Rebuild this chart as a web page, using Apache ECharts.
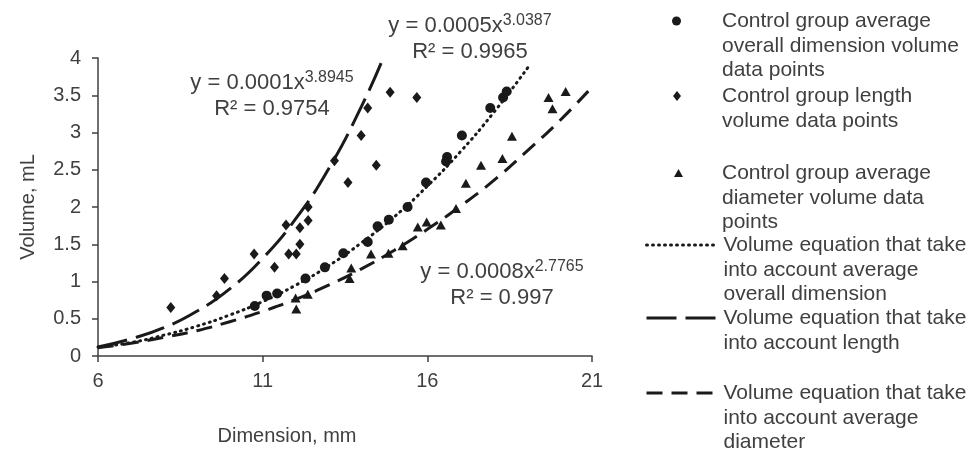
<!DOCTYPE html>
<html>
<head>
<meta charset="utf-8">
<style>html,body{margin:0;padding:0;background:#fff}#main{width:971px;height:452px}</style>
</head>
<body>
<div id="main"></div>
<script src="https://cdn.jsdelivr.net/npm/echarts@6/dist/echarts.min.js"></script>
<script>
    // tick labels
    var dimTicks = [6, 11, 16, 21];

    // measured points [dimension mm, volume mL]
    var overallPts = [[10.76,0.67],[11.12,0.81],[11.44,0.84],[12.30,1.04],[12.89,1.19],[13.45,1.38],[14.19,1.53],[14.49,1.74],[14.83,1.83],[15.40,2.00],[15.96,2.33],[16.57,2.61],[16.60,2.67],[17.05,2.96],[17.91,3.33],[18.30,3.47],[18.41,3.55]];
    var lengthPts = [[8.21,0.65],[9.60,0.81],[9.84,1.04],[10.74,1.37],[11.36,1.19],[11.71,1.76],[11.79,1.37],[12.02,1.37],[12.13,1.50],[12.13,1.72],[12.38,1.82],[12.38,2.00],[13.18,2.62],[13.59,2.33],[13.99,2.96],[14.19,3.33],[14.45,2.56],[14.87,3.54],[15.68,3.47]];
    var diameterPts = [[12.02,0.63],[12.00,0.78],[12.37,0.83],[13.64,1.04],[13.69,1.18],[14.29,1.37],[14.82,1.38],[15.25,1.48],[15.71,1.73],[15.98,1.80],[16.41,1.76],[16.87,1.98],[17.17,2.32],[17.63,2.56],[18.28,2.65],[18.57,2.95],[19.68,3.47],[19.80,3.32],[20.20,3.55]];

    // trend lines
    var overallFitX = [6,7,8,9,10,11,12,13,14,15,16,17,18,19.05];
    var overallFitY = [0.12,0.18,0.28,0.40,0.55,0.73,0.95,1.21,1.52,1.87,2.28,2.74,3.26,3.87];
    var lengthFitX = [6,7,8,9,10,11,12,13,14,14.66];
    var lengthFitY = [0.12,0.23,0.38,0.60,0.90,1.31,1.84,2.51,3.35,4.0];
    var diameterFitX = [6,7,8,9,10,11,12,13,14,15,16,17,18,19,20,21];
    var diameterFitY = [0.11,0.17,0.25,0.34,0.46,0.60,0.76,0.95,1.17,1.42,1.70,2.01,2.35,2.74,3.15,3.61];

    var names = [
        'Control group average overall dimension volume data points',
        'Control group length volume data points',
        'Control group average diameter volume data points',
        'Volume equation that take into account average overall dimension',
        'Volume equation that take into account length',
        'Volume equation that take into account average diameter'
    ];
    var legendLines = [
        ['Control group average', 'overall dimension volume', 'data points'],
        ['Control group length', 'volume data points'],
        ['Control group average', 'diameter volume data', 'points'],
        ['Volume equation that take', 'into account average', 'overall dimension'],
        ['Volume equation that take', 'into account length'],
        ['Volume equation that take', 'into account average', 'diameter']
    ];
    var legendFirstY = [21, 96, 173, 245, 318, 393];

    var FONT = '"Liberation Sans", Arial, sans-serif';
    var TXT = '#404040';
    var INK = '#1a1a1a';
    var LH = 24.8;

    var dotStyle = { color: INK, width: 3, type: [1, 5], cap: 'round' };
    var longDashStyle = { color: INK, width: 3, type: [30, 9] };
    var dashStyle = { color: INK, width: 3, type: [16, 9] };

    function zip(xs, ys) {
        var out = [];
        for (var i = 0; i < xs.length; i++) { out.push([xs[i], ys[i]]); }
        return out;
    }

    function makeLegend(i, left, w, h, padLeft, icon, lineStyle) {
        var lines = legendLines[i];
        var blank = lines.length - 1;
        var txt = new Array(blank + 1).join('\n') + lines.join('\n');
        var lg = {
            data: [names[i]],
            orient: 'vertical',
            left: left,
            top: legendFirstY[i] - (blank + 0.5) * LH,
            padding: 0,
            itemWidth: w,
            itemHeight: h,
            selectedMode: false,
            formatter: function () { return txt; },
            textStyle: { fontSize: 21, lineHeight: LH, color: TXT, fontFamily: FONT, padding: [0, 0, 0, padLeft] }
        };
        if (icon) {
            lg.icon = icon;
            lg.itemStyle = { color: INK, opacity: 1 };
        }
        if (lineStyle) {
            lg.lineStyle = lineStyle;
            lg.itemStyle = { opacity: 0, borderWidth: 0 };
        }
        return lg;
    }

    function eq(base, power, r2) {
        return {
            text: '{a|' + base + '}{s|' + power + '}\n{a|' + r2 + '}',
            align: 'center',
            verticalAlign: 'middle',
            fontSize: 22,
            lineHeight: 26,
            fontFamily: FONT,
            fill: TXT,
            rich: {
                a: { fontSize: 22, lineHeight: 26, fontFamily: FONT, fill: TXT },
                s: { fontSize: 16, lineHeight: 26, fontFamily: FONT, fill: TXT, verticalAlign: 'top' }
            }
        };
    }

    var myChart = echarts.init(document.getElementById('main'));
    var option = {
        backgroundColor: '#fff',
        animation: false,
        grid: { left: 98, right: 379, top: 58, bottom: 96 },
        legend: [
            makeLegend(0, 672, 9, 9, 36, 'circle'),
            makeLegend(1, 673, 8, 10, 36, 'diamond'),
            makeLegend(2, 674, 9, 8, 34, 'triangle'),
            makeLegend(3, 645, 69, 12, 3, null, dotStyle),
            makeLegend(4, 645, 69, 12, 3, null, longDashStyle),
            makeLegend(5, 645, 69, 12, 3, null, dashStyle)
        ],
        xAxis: {
            type: 'value',
            min: 6,
            max: 21,
            name: 'Dimension, mm',
            nameLocation: 'middle',
            nameGap: 70,
            nameTextStyle: { fontSize: 20, color: TXT, fontFamily: FONT, padding: [0, 116, 0, 0] },
            axisLine: { lineStyle: { color: '#404040', width: 1.5 } },
            axisTick: { show: true, length: 6, customValues: dimTicks, lineStyle: { color: '#404040', width: 1.5 } },
            axisLabel: { customValues: dimTicks, fontSize: 20, color: TXT, fontFamily: FONT, margin: 15 },
            splitLine: { show: false }
        },
        yAxis: {
            type: 'value',
            min: 0,
            max: 4,
            interval: 0.5,
            name: 'Volume, mL',
            nameLocation: 'middle',
            nameRotate: 90,
            nameGap: 60,
            nameTextStyle: { fontSize: 20, color: TXT, fontFamily: FONT },
            axisLine: { show: true, lineStyle: { color: '#404040', width: 1.5 } },
            axisTick: { show: true, length: 6, lineStyle: { color: '#404040', width: 1.5 } },
            axisLabel: { fontSize: 20, color: TXT, fontFamily: FONT, margin: 17 },
            splitLine: { show: false }
        },
        series: [
            { name: names[0], type: 'scatter', symbol: 'circle', symbolSize: 10, itemStyle: { color: INK, opacity: 1 }, data: overallPts, z: 2 },
            { name: names[1], type: 'scatter', symbol: 'diamond', symbolSize: [9, 11], itemStyle: { color: INK, opacity: 1 }, data: lengthPts, z: 2 },
            { name: names[2], type: 'scatter', symbol: 'triangle', symbolSize: [10, 9], itemStyle: { color: INK, opacity: 1 }, data: diameterPts, z: 2 },
            { name: names[3], type: 'line', smooth: true, symbol: 'none', z: 3, itemStyle: { color: INK },
              lineStyle: dotStyle, data: zip(overallFitX, overallFitY) },
            { name: names[4], type: 'line', smooth: true, symbol: 'none', z: 3, itemStyle: { color: INK },
              lineStyle: longDashStyle, data: zip(lengthFitX, lengthFitY) },
            { name: names[5], type: 'line', smooth: true, symbol: 'none', z: 3, itemStyle: { color: INK },
              lineStyle: dashStyle, data: zip(diameterFitX, diameterFitY) }
        ],
        graphic: [
            { type: 'text', x: 272, y: 96, style: eq('y = 0.0001x', '3.8945', 'R² = 0.9754') },
            { type: 'text', x: 470, y: 38.5, style: eq('y = 0.0005x', '3.0387', 'R² = 0.9965') },
            { type: 'text', x: 502, y: 284.5, style: eq('y = 0.0008x', '2.7765', 'R² = 0.997') }
        ]
    };

    myChart.setOption(option);
</script>
</body>
</html>
